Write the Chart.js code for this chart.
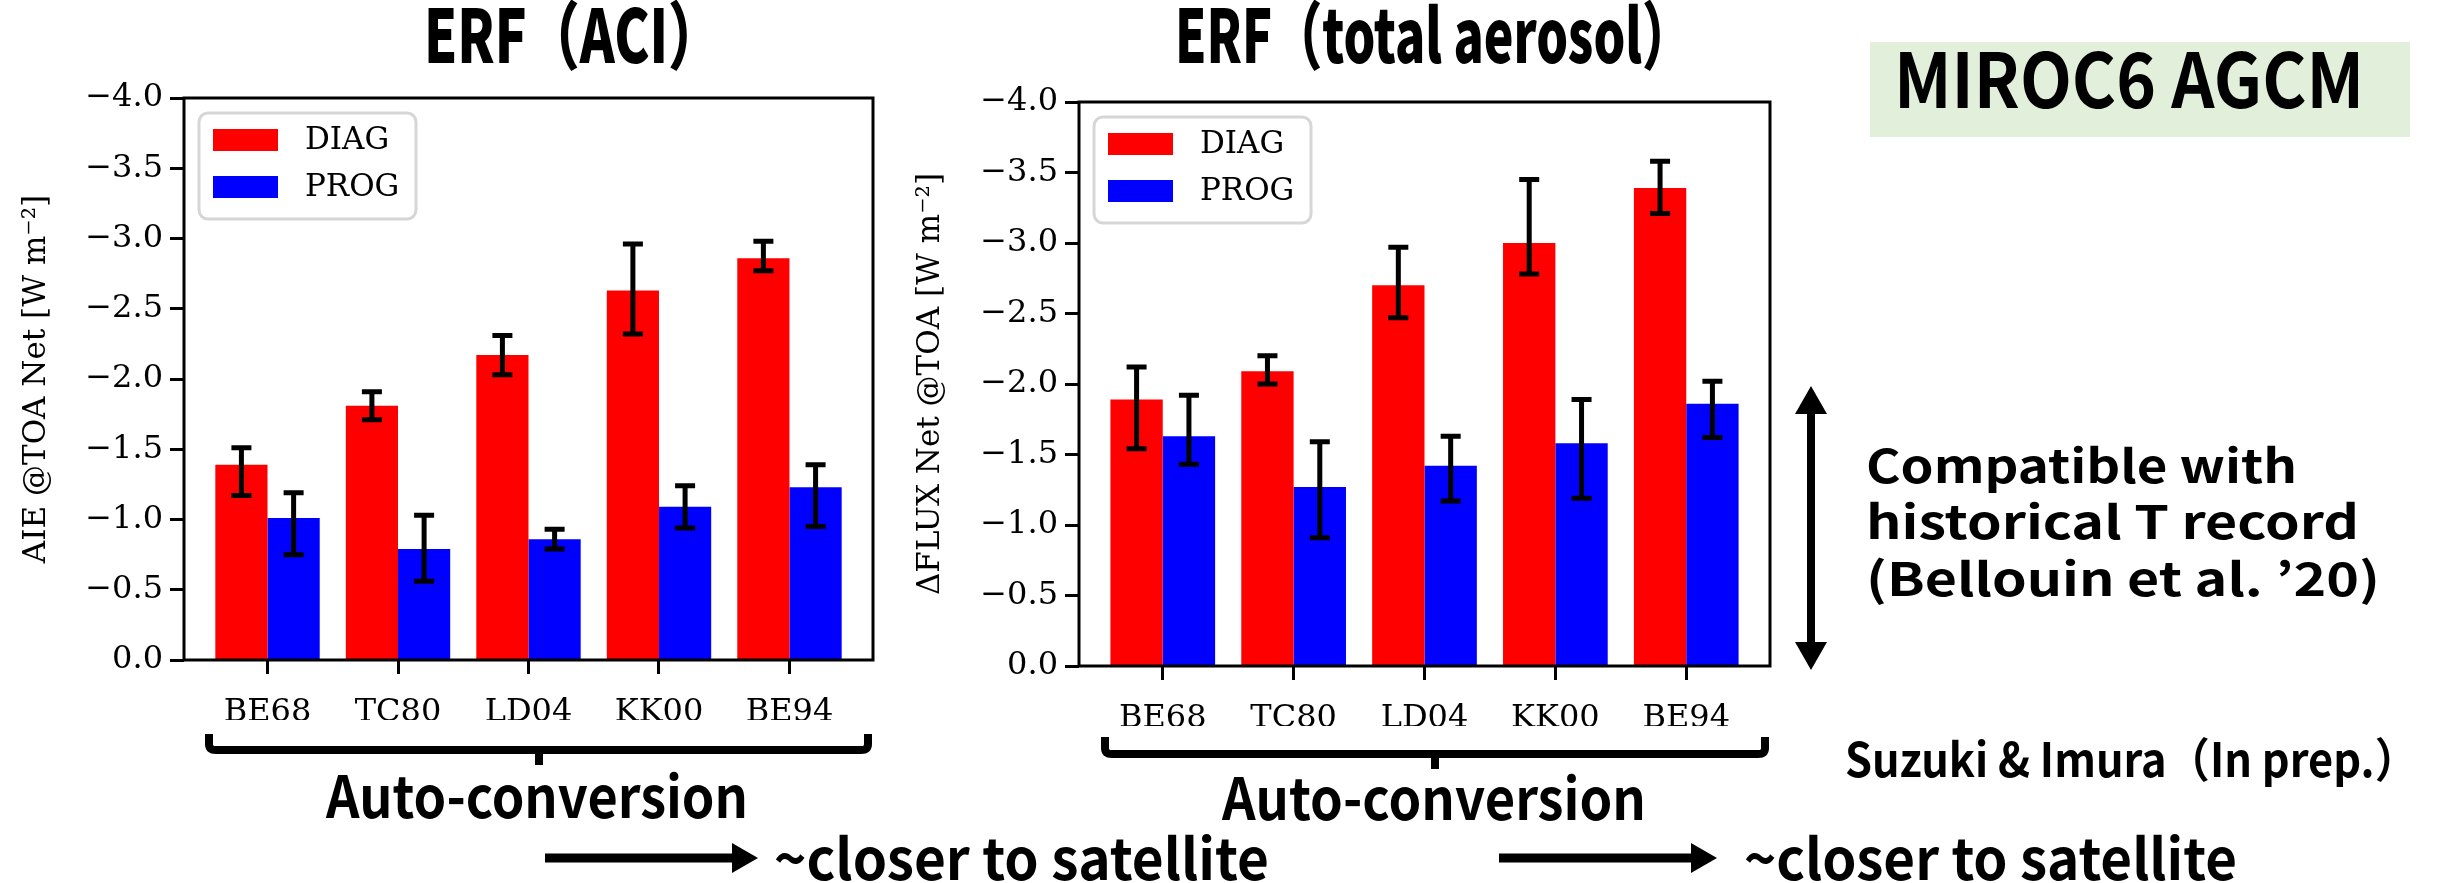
<!DOCTYPE html>
<html>
<head>
<meta charset="utf-8">
<title>ERF MIROC6</title>
<script src="https://cdn.jsdelivr.net/npm/chart.js@4.4.1/dist/chart.umd.min.js"></script>
<style>
  html, body { margin: 0; padding: 0; background: #fff; }
  #page { position: relative; width: 2441px; height: 883px; overflow: hidden; background: #fff; }
  .plot { position: absolute; top: 0; height: 760px; width: 900px; }
  #notes { position: absolute; left: 0; top: 0; pointer-events: none; }
  #notes text { font-family: "Noto Sans CJK JP", "Noto Sans", sans-serif; font-weight: 700; fill: #000; }
  #notes text.heavy { font-weight: 900; }
</style>
</head>
<body>
<div id="page">
  <div class="plot" style="left:0px"><canvas id="aciChart"></canvas></div>
  <div class="plot" style="left:900px"><canvas id="totalChart"></canvas></div>

  <svg id="notes" width="2441" height="883">
    <!-- panel titles -->
    <text class="heavy" x="424" y="63" font-size="74" textLength="297" lengthAdjust="spacingAndGlyphs">ERF（ACI）</text>
    <text class="heavy" x="1175" y="63" font-size="74" textLength="517" lengthAdjust="spacingAndGlyphs">ERF（total aerosol）</text>

    <!-- model label -->
    <rect x="1870" y="42" width="540" height="95" fill="#e2efda"></rect>
    <text x="1894" y="108" font-size="76" textLength="470" lengthAdjust="spacingAndGlyphs">MIROC6 AGCM</text>

    <!-- braces under the scheme names -->
    <path d="M209 734 L209 744 Q209 750 216 750 L861 750 Q868 750 868 744 L868 734" fill="none" stroke="#000" stroke-width="8"></path>
    <rect x="535" y="750" width="8" height="15" fill="#000"></rect>
    <path d="M1105 737 L1105 748 Q1105 754 1112 754 L1758 754 Q1765 754 1765 748 L1765 737" fill="none" stroke="#000" stroke-width="8"></path>
    <rect x="1431" y="754" width="8" height="15" fill="#000"></rect>

    <text x="326" y="818" font-size="58" textLength="422" lengthAdjust="spacingAndGlyphs">Auto-conversion</text>
    <text x="1222" y="820" font-size="58" textLength="424" lengthAdjust="spacingAndGlyphs">Auto-conversion</text>

    <!-- direction arrows -->
    <rect x="545" y="853.5" width="190" height="9" fill="#000"></rect>
    <polygon points="732,843 758,858 732,873" fill="#000"></polygon>
    <text x="774" y="880" font-size="57" textLength="495" lengthAdjust="spacingAndGlyphs">~closer to satellite</text>
    <rect x="1499" y="853.5" width="192" height="9" fill="#000"></rect>
    <polygon points="1691,843 1717,858 1691,873" fill="#000"></polygon>
    <text x="1744" y="880" font-size="57" textLength="493" lengthAdjust="spacingAndGlyphs">~closer to satellite</text>

    <!-- range consistent with observed warming -->
    <rect x="1807" y="410" width="8" height="236" fill="#000"></rect>
    <polygon points="1795,414 1811,386 1827,414" fill="#000"></polygon>
    <polygon points="1795,642 1811,670 1827,642" fill="#000"></polygon>
    <text x="1866" y="483" font-size="46" textLength="431" lengthAdjust="spacingAndGlyphs">Compatible with</text>
    <text x="1866" y="539" font-size="46" textLength="493" lengthAdjust="spacingAndGlyphs">historical T record</text>
    <text x="1866" y="596" font-size="46" textLength="514" lengthAdjust="spacingAndGlyphs">(Bellouin et al. ’20)</text>

    <text x="1845" y="777" font-size="47" textLength="573" lengthAdjust="spacingAndGlyphs">Suzuki &amp; Imura（In prep.）</text>
  </svg>
</div>

<script>
// auto-conversion schemes on the x axis
var schemes = ['BE68', 'TC80', 'LD04', 'KK00', 'BE94'];
var yTickValues = [-4.0, -3.5, -3.0, -2.5, -2.0, -1.5, -1.0, -0.5, 0.0];

// ERF (ACI): bar values and error bar ends
var aciDiag = [-1.39, -1.81, -2.17, -2.63, -2.86];
var aciDiagLow = [-1.17, -1.71, -2.03, -2.32, -2.77];
var aciDiagHigh = [-1.51, -1.91, -2.31, -2.96, -2.98];
var aciProg = [-1.01, -0.79, -0.86, -1.09, -1.23];
var aciProgLow = [-0.75, -0.56, -0.79, -0.94, -0.95];
var aciProgHigh = [-1.19, -1.03, -0.93, -1.24, -1.39];

// ERF (total aerosol)
var totDiag = [-1.89, -2.09, -2.70, -3.00, -3.39];
var totDiagLow = [-1.54, -2.00, -2.47, -2.78, -3.21];
var totDiagHigh = [-2.12, -2.20, -2.97, -3.45, -3.58];
var totProg = [-1.63, -1.27, -1.42, -1.58, -1.86];
var totProgLow = [-1.43, -0.91, -1.17, -1.19, -1.62];
var totProgHigh = [-1.92, -1.59, -1.63, -1.89, -2.02];

var serif = '"DejaVu Serif", serif';

function toPoints(values) {
    return values.map(function (v, i) { return { x: i, y: v }; });
}

// vertical error bars with caps, drawn over the bars
var errorBars = {
    id: 'errorBars',
    afterDatasetsDraw: function (chart) {
        var ctx = chart.ctx;
        var y = chart.scales.y;
        ctx.save();
        ctx.strokeStyle = '#000';
        ctx.lineWidth = 5;
        chart.data.datasets.forEach(function (ds, i) {
            chart.getDatasetMeta(i).data.forEach(function (bar, j) {
                var y1 = y.getPixelForValue(ds.errLow[j]);
                var y2 = y.getPixelForValue(ds.errHigh[j]);
                ctx.beginPath();
                ctx.moveTo(bar.x, y1);
                ctx.lineTo(bar.x, y2);
                ctx.moveTo(bar.x - 10, y1);
                ctx.lineTo(bar.x + 10, y1);
                ctx.moveTo(bar.x - 10, y2);
                ctx.lineTo(bar.x + 10, y2);
                ctx.stroke();
            });
        });
        ctx.restore();
    }
};

// closed axes frame plus the boxed legend in the upper left
var frameAndLegend = {
    id: 'frameAndLegend',
    afterDraw: function (chart) {
        var ctx = chart.ctx;
        var a = chart.chartArea;
        ctx.save();
        ctx.strokeStyle = '#000';
        ctx.lineWidth = 3;
        ctx.strokeRect(a.left, a.top, a.right - a.left, a.bottom - a.top);

        var lx = a.left + 15, ly = a.top + 15, lw = 217, lh = 106;
        ctx.beginPath();
        ctx.roundRect(lx, ly, lw, lh, 9);
        ctx.fillStyle = 'rgba(255,255,255,0.8)';
        ctx.fill();
        ctx.strokeStyle = '#d6d6d6';
        ctx.lineWidth = 3;
        ctx.stroke();

        ctx.font = '31px ' + serif;
        ctx.textBaseline = 'middle';
        chart.data.datasets.forEach(function (ds, i) {
            var cy = ly + 27 + i * 47;
            ctx.fillStyle = ds.backgroundColor;
            ctx.fillRect(lx + 14, cy - 11, 65, 22);
            ctx.fillStyle = '#000';
            ctx.fillText(ds.label, lx + 106, cy + 1);
        });
        ctx.restore();
    }
};

function makeChart(id, diag, diagLow, diagHigh, prog, progLow, progHigh, yTitle, box) {
    return new Chart(document.getElementById(id).getContext('2d'), {
        type: 'bar',
        data: {
            datasets: [{
                label: 'DIAG',
                data: toPoints(diag),
                errLow: diagLow,
                errHigh: diagHigh,
                backgroundColor: '#ff0000',
                borderWidth: 0
            }, {
                label: 'PROG',
                data: toPoints(prog),
                errLow: progLow,
                errHigh: progHigh,
                backgroundColor: '#0000ff',
                borderWidth: 0
            }]
        },
        options: {
            responsive: true,
            maintainAspectRatio: false,
            animation: false,
            devicePixelRatio: 1,
            categoryPercentage: 0.8,
            barPercentage: 1.0,
            layout: {
                padding: { left: 0, top: box.top, right: box.right, bottom: box.bottom }
            },
            scales: {
                x: {
                    type: 'linear',
                    min: -0.64,
                    max: 4.64,
                    offset: false,
                    afterBuildTicks: function (scale) {
                        scale.ticks = schemes.map(function (s, i) { return { value: i }; });
                    },
                    afterFit: function (scale) { scale.height = 60; },
                    border: { display: false },
                    grid: {
                        display: true,
                        offset: false,
                        drawOnChartArea: false,
                        drawTicks: true,
                        tickLength: 14,
                        tickWidth: 3,
                        tickColor: '#000'
                    },
                    ticks: {
                        autoSkip: false,
                        maxRotation: 0,
                        padding: 19,
                        color: '#000',
                        font: { family: serif, size: 32 },
                        callback: function (v) { return schemes[v]; }
                    }
                },
                y: {
                    type: 'linear',
                    min: -4,
                    max: 0,
                    reverse: true,
                    afterBuildTicks: function (scale) {
                        scale.ticks = yTickValues.map(function (v) { return { value: v }; });
                    },
                    afterFit: function (scale) { scale.width = box.yWidth; },
                    border: { display: false },
                    grid: {
                        display: true,
                        drawOnChartArea: false,
                        drawTicks: true,
                        tickLength: 14,
                        tickWidth: 3,
                        tickColor: '#000'
                    },
                    ticks: {
                        padding: 7,
                        color: '#000',
                        font: { family: serif, size: 32 },
                        callback: function (v) {
                            return (v < 0 ? '\u2212' : '') + Math.abs(v).toFixed(1);
                        }
                    },
                    title: {
                        display: true,
                        text: yTitle,
                        color: '#000',
                        font: { family: serif, size: 31 },
                        padding: { top: box.titlePad, bottom: 0 }
                    }
                }
            },
            plugins: {
                legend: { display: false },
                tooltip: { enabled: false }
            }
        },
        plugins: [errorBars, frameAndLegend]
    });
}

var aciChart = makeChart('aciChart', aciDiag, aciDiagLow, aciDiagHigh, aciProg, aciProgLow, aciProgHigh,
    'AIE @TOA Net [W m\u207B\u00B2]', { yWidth: 184, top: 98, bottom: 40, right: 27, titlePad: 18 });

var totalChart = makeChart('totalChart', totDiag, totDiagLow, totDiagHigh, totProg, totProgLow, totProgHigh,
    '\u0394FLUX Net @TOA [W m\u207B\u00B2]', { yWidth: 179, top: 102, bottom: 34, right: 30, titlePad: 12 });
</script>
</body>
</html>
